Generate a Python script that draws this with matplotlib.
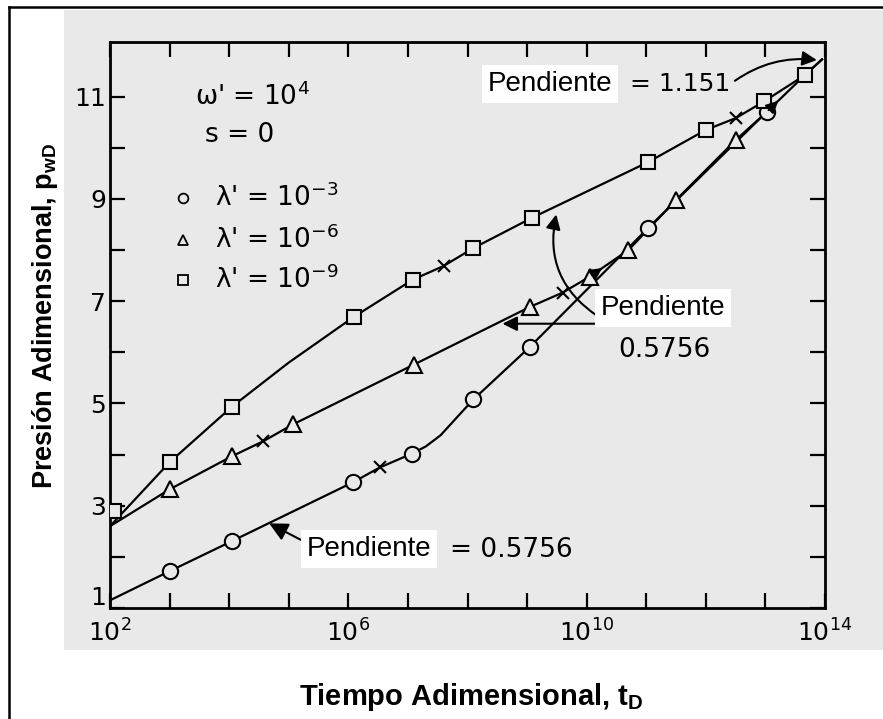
import numpy as np
import matplotlib
matplotlib.use('Agg')
import matplotlib.pyplot as plt
from matplotlib.patches import Rectangle
from matplotlib.lines import Line2D

plt.rcParams['font.family'] = 'DejaVu Sans'
plt.rcParams['mathtext.fontset'] = 'custom'
plt.rcParams['mathtext.rm'] = 'DejaVu Sans'
plt.rcParams['mathtext.it'] = 'DejaVu Sans'
plt.rcParams['mathtext.bf'] = 'Liberation Sans:bold'

# log10(tD) and pwD values
# lambda' = 1e-3 (circles)
circ_line_lt = [2.0, 3.0, 4.05, 6.08, 6.53, 7.07, 7.3, 7.55, 7.8, 8.1, 9.05, 11.03, 13.02, 13.66, 13.95]
circ_line_p = [1.15, 1.72, 2.31, 3.46, 3.75, 4.02, 4.16, 4.38, 4.70, 5.08, 6.11, 8.43, 10.70, 11.42, 11.73]
circ_lt = [3.0, 4.05, 6.08, 7.07, 8.1, 9.05, 11.03, 13.02]
circ_p = [1.72, 2.31, 3.46, 4.02, 5.08, 6.11, 8.43, 10.70]
circ_x_lt = [6.53]
circ_x_p = [3.75]

# lambda' = 1e-6 (triangles)
tri_line_lt = [2.0, 3.0, 4.05, 4.57, 5.07, 7.1, 9.05, 9.6, 10.05, 10.7, 11.5, 12.5, 13.02]
tri_line_p = [2.6, 3.32, 3.97, 4.26, 4.59, 5.76, 6.89, 7.17, 7.48, 8.0, 8.98, 10.15, 10.70]
tri_lt = [3.0, 4.05, 5.07, 7.1, 9.05, 10.05, 10.7, 11.5, 12.5]
tri_p = [3.32, 3.97, 4.59, 5.76, 6.89, 7.48, 8.0, 8.98, 10.15]
tri_x_lt = [4.57, 9.6]
tri_x_p = [4.26, 7.17]

# lambda' = 1e-9 (squares)
sq_line_lt = [2.0, 3.0, 4.05, 5.0, 6.1, 7.08, 7.6, 8.1, 9.08, 11.03, 12.0, 12.5, 12.98, 13.66, 13.95]
sq_line_p = [2.6, 3.85, 4.94, 5.80, 6.70, 7.42, 7.69, 8.04, 8.63, 9.72, 10.35, 10.58, 10.91, 11.42, 11.73]
sq_lt = [2.06, 3.0, 4.05, 6.1, 7.08, 8.1, 9.08, 11.03, 12.0, 12.98, 13.66]
sq_p = [2.9, 3.85, 4.94, 6.70, 7.42, 8.04, 8.63, 9.72, 10.35, 10.91, 11.42]
sq_x_lt = [7.6, 12.5]
sq_x_p = [7.69, 10.58]

x_tick_exp = list(range(2, 15))
x_label_exp = [2, 6, 10, 14]
y_ticks = list(range(1, 12))

W, H = 883, 719
bg = '#e9e9e9'


def fx(x):
    return x / W


def fy(y):
    return 1 - y / H


fig = plt.figure(figsize=(W / 100, H / 100), dpi=100)
fig.patches.append(Rectangle((fx(64), fy(650)), 1 - fx(64), (650 - 10) / H,
                             transform=fig.transFigure, fc=bg, ec='none', zorder=-5))
fig.add_artist(Line2D([fx(9), fx(9)], [0, fy(7)], color='k', lw=1.8))
fig.add_artist(Line2D([fx(9), 1], [fy(7), fy(7)], color='k', lw=1.8))

ax = fig.add_axes([fx(110), fy(608), (825 - 110) / W, (608 - 42) / H])
ax.patch.set_visible(False)
ax.set_xscale('log')
ax.set_xlim(1e2, 1e14)
ax.set_ylim(1, 12.07)

def T(v):
    return 10 ** np.array(v)

mk = dict(ls='none', mfc=bg, mec='k', mew=1.5, zorder=3)
ax.plot(T(circ_line_lt), circ_line_p, 'k-', lw=1.6)
ax.plot(T(tri_line_lt), tri_line_p, 'k-', lw=1.6)
ax.plot(T(sq_line_lt), sq_line_p, 'k-', lw=1.6)
ax.plot(T(circ_lt), circ_p, marker='o', ms=11, **mk)
ax.plot(T(tri_lt), tri_p, marker='^', ms=12, **mk)
ax.plot(T(sq_lt), sq_p, marker='s', ms=10, **mk)
for lt, p in [(circ_x_lt, circ_x_p), (tri_x_lt, tri_x_p), (sq_x_lt, sq_x_p)]:
    ax.plot(T(lt), p, 'kx', ms=9, mew=1.5, zorder=3)

ax.set_xticks(T(x_tick_exp))
ax.set_xticklabels([r'$10^{%d}$' % e if e in x_label_exp else '' for e in x_tick_exp])
ax.set_yticks(y_ticks)
# the "1" label sits a little higher in the original, placed by hand below
ax.set_yticklabels([str(v) if v % 2 and v > 1 else '' for v in y_ticks])
ax.minorticks_off()
ax.tick_params(direction='in', length=11, width=1.6, top=True, right=True,
               labelsize=18)
ax.tick_params(axis='x', pad=8)
ax.tick_params(axis='y', pad=3)
for s in ax.spines.values():
    s.set_linewidth(2)
fig.text(fx(106), fy(598), '1', fontsize=18, ha='right', va='center')

# arrows
ap = dict(arrowstyle='-|>', color='k', lw=1.5, mutation_scale=22)
ax.annotate('', xy=(T(13.91), 11.71), xytext=(T(12.45), 11.28),
            arrowprops=dict(ap, connectionstyle='arc3,rad=-0.2'))
ax.annotate('', xy=(T(9.5), 8.75), xytext=(T(10.22), 6.68),
            arrowprops=dict(ap, connectionstyle='arc3,rad=-0.35'))
ax.annotate('', xy=(T(8.54), 6.56), xytext=(T(10.22), 6.56), arrowprops=ap)
ax.annotate('', xy=(T(4.63), 2.68), xytext=(T(5.24), 2.31),
            arrowprops=dict(ap, mutation_scale=28))
ax.annotate('', xy=(T(10.3), 7.68), xytext=(T(10.05), 7.48),
            arrowprops=dict(ap, mutation_scale=18))
ax.annotate('', xy=(T(13.25), 10.96), xytext=(T(13.02), 10.70),
            arrowprops=dict(ap, mutation_scale=18))

# text labels
box = dict(fc='white', ec='none', pad=4)
fig.text(fx(488), fy(84), 'Pendiente', fontsize=20, family='Liberation Sans',
         va='center', bbox=box)
fig.text(fx(630), fy(84), '= 1.151', fontsize=18, va='center')
fig.text(fx(601), fy(308), 'Pendiente', fontsize=20, family='Liberation Sans',
         va='center', bbox=box)
fig.text(fx(618), fy(350), '0.5756', fontsize=19, va='center')
fig.text(fx(307), fy(549), 'Pendiente', fontsize=20, family='Liberation Sans',
         va='center', bbox=box)
fig.text(fx(450), fy(550), '= 0.5756', fontsize=19, va='center')

fig.text(fx(195), fy(97), r"$\omega$' = $10^{4}$", fontsize=19, va='center')
fig.text(fx(205), fy(135), 's = 0', fontsize=19, va='center')
leg_lab = [r"$\lambda$' = $10^{-3}$", r"$\lambda$' = $10^{-6}$", r"$\lambda$' = $10^{-9}$"]
leg_mk = ['o', '^', 's']
for lab, m, yy in zip(leg_lab, leg_mk, [198, 240, 280]):
    fig.text(fx(215), fy(yy), lab, fontsize=19, va='center')
    fig.add_artist(Line2D([fx(183)], [fy(yy)], marker=m, ms=7, mfc=bg, mec='k', mew=1.3))

fig.text(fx(45), fy(316), r'Presión Adimensional, $\mathbf{p_{wD}}$', rotation=90,
         fontsize=19.5, fontweight='bold', family='Liberation Sans', ha='center', va='center')
fig.text(fx(471), fy(697), r'Tiempo Adimensional, $\mathbf{t_D}$',
         fontsize=21, fontweight='bold', family='Liberation Sans', ha='center', va='center')

fig.savefig('out.png', dpi=100)
